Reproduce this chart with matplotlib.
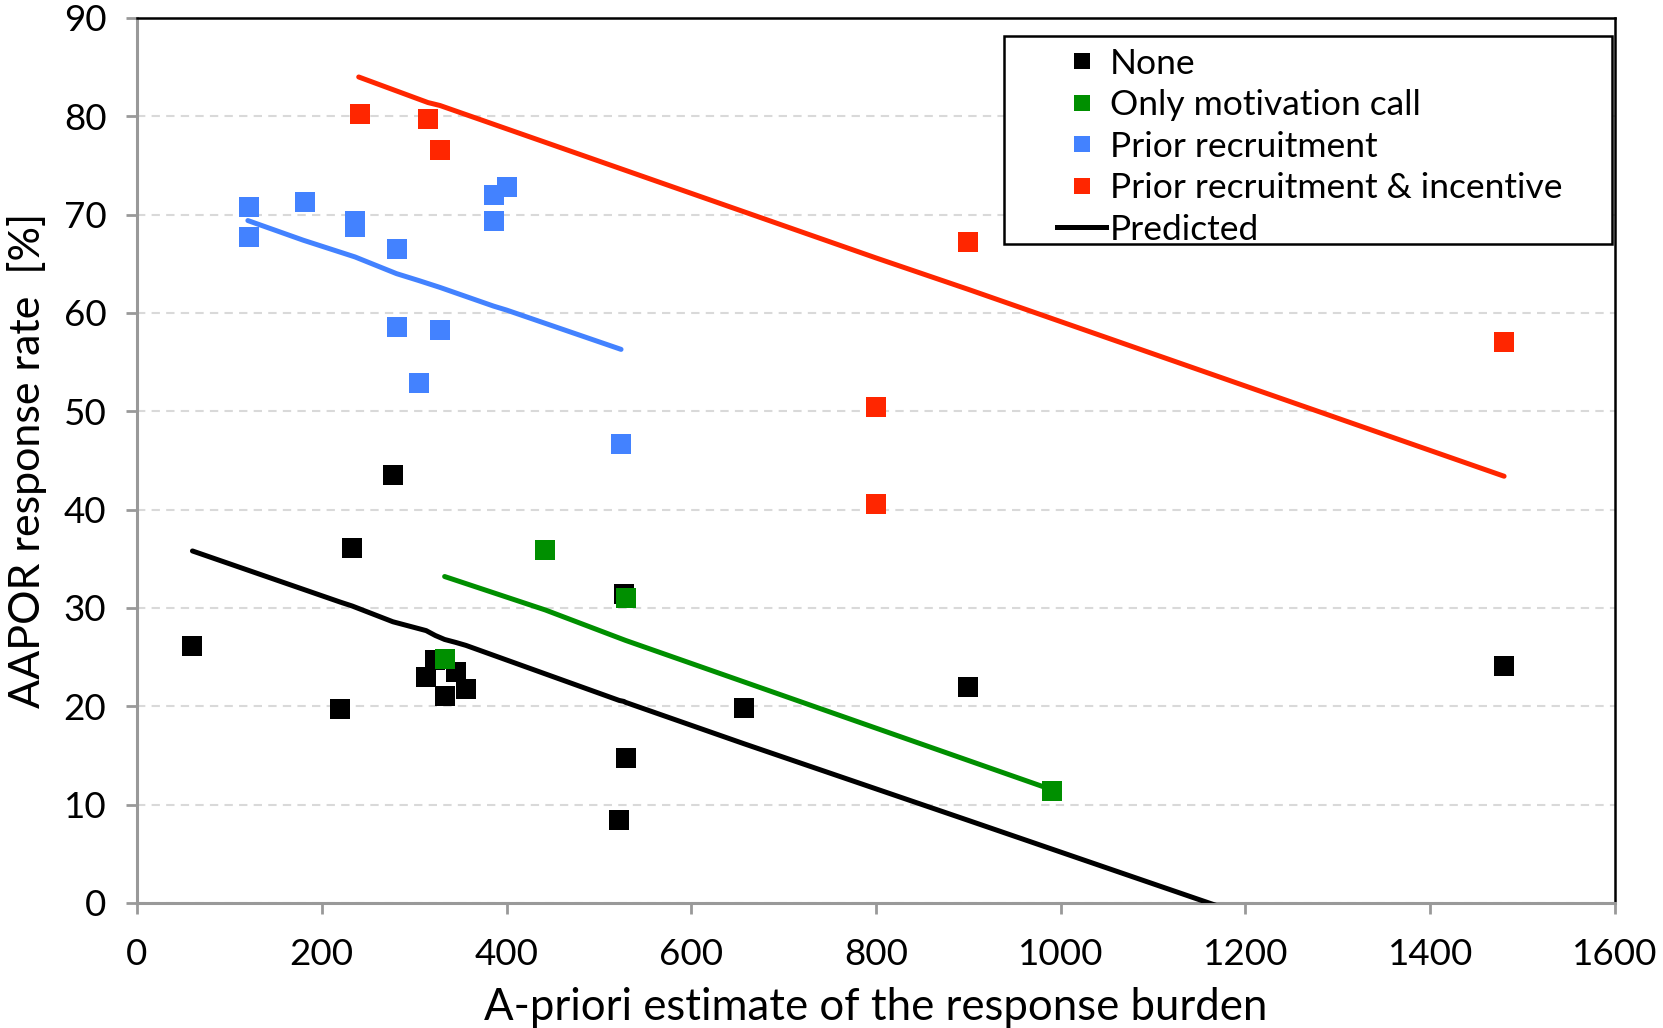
"""Response rate vs a-priori response burden, by recruitment strategy."""
import matplotlib
matplotlib.use("Agg")
import matplotlib.pyplot as plt
from matplotlib.lines import Line2D
from matplotlib.patches import Rectangle

plt.rcParams['font.family'] = ['Lato', 'DejaVu Sans']

# Observed response rates
none_x = [60, 220, 233, 277, 313, 323, 333, 345, 356, 522, 527, 529, 657, 900, 1480]
none_y = [26.1, 19.7, 36.1, 43.5, 23.0, 24.7, 21.1, 23.5, 21.8, 8.4, 31.4, 14.7, 19.8, 22.0, 24.1]

motiv_x = [333, 442, 529, 991]
motiv_y = [24.8, 35.9, 31.0, 11.4]

prior_x = [121, 121, 182, 236, 236, 281, 281, 305, 328, 386, 386, 401, 524]
prior_y = [70.8, 67.7, 71.3, 69.4, 68.7, 66.5, 58.6, 52.9, 58.3, 72.0, 69.4, 72.8, 46.7]

incent_x = [241, 315, 328, 800, 800, 900, 1480]
incent_y = [80.2, 79.7, 76.6, 50.4, 40.6, 67.2, 57.1]

# Predicted response rates
pred_none_x = [60, 220, 233, 277, 313, 323, 333, 345, 356, 522, 527, 529, 657, 900, 1480]
pred_none_y = [35.8, 30.6, 30.2, 28.6, 27.7, 27.2, 26.8, 26.5, 26.2, 20.6, 20.5, 20.4, 16.2, 8.4, -10.3]

pred_motiv_x = [333, 442, 529, 991]
pred_motiv_y = [33.2, 29.8, 26.7, 11.5]

pred_prior_x = [120, 180, 236, 281, 305, 328, 386, 400, 524]
pred_prior_y = [69.4, 67.4, 65.7, 64.0, 63.3, 62.6, 60.7, 60.3, 56.3]

pred_incent_x = [240, 315, 328, 800, 900, 1480]
pred_incent_y = [84.0, 81.4, 81.1, 65.6, 62.4, 43.4]

colors = {'none': '#000000', 'motiv': '#008f00', 'prior': '#4382ff', 'incent': '#ff2600'}

fig = plt.figure(figsize=(16.63, 10.28), dpi=100)
ax = fig.add_axes([0.0824, 0.1216, 0.8887, 0.8609])

# Predicted lines
ax.plot(pred_none_x, pred_none_y, color=colors['none'], lw=3.6, solid_capstyle='round', zorder=3)
ax.plot(pred_motiv_x, pred_motiv_y, color=colors['motiv'], lw=3.6, solid_capstyle='round', zorder=3)
ax.plot(pred_prior_x, pred_prior_y, color=colors['prior'], lw=3.6, solid_capstyle='round', zorder=3)
ax.plot(pred_incent_x, pred_incent_y, color=colors['incent'], lw=3.6, solid_capstyle='round', zorder=3)

# Observed points
ms = 14.5
ax.plot(none_x, none_y, 's', color=colors['none'], ms=ms, mew=0, zorder=4)
ax.plot(motiv_x, motiv_y, 's', color=colors['motiv'], ms=ms, mew=0, zorder=5)
ax.plot(prior_x, prior_y, 's', color=colors['prior'], ms=ms, mew=0, zorder=4)
ax.plot(incent_x, incent_y, 's', color=colors['incent'], ms=ms, mew=0, zorder=4)

ax.set_xlim(0, 1600)
ax.set_ylim(0, 90)
ax.set_xticks(range(0, 1601, 200))
ax.set_yticks(range(0, 91, 10))
ax.yaxis.grid(True, color='#d9d9d9', ls=(0, (4, 3)), lw=1.5)
ax.set_axisbelow(True)

for side in ['left', 'bottom']:
    ax.spines[side].set_color('#999999')
    ax.spines[side].set_linewidth(2.2)
for side in ['top', 'right']:
    ax.spines[side].set_color('black')
    ax.spines[side].set_linewidth(1.8)

ax.tick_params(axis='both', color='#999999', width=2, length=8, labelsize=26.5)
ax.tick_params(axis='y', pad=14)
ax.tick_params(axis='x', pad=17)

ax.set_xlabel('A-priori estimate of the response burden', fontsize=31.5, labelpad=12)
ax.set_ylabel('AAPOR response rate  [%]', fontsize=31, labelpad=12)

# legend frame drawn separately (wide left margin as in the original)
ax.add_patch(Rectangle((0.5865, 0.7446), 0.4114, 0.2354, transform=ax.transAxes,
                       facecolor='white', edgecolor='black', lw=1.8, zorder=6))

handles = [
    Line2D([], [], ls='none', marker='s', color=colors['none'], ms=12, mew=0),
    Line2D([], [], ls='none', marker='s', color=colors['motiv'], ms=12, mew=0),
    Line2D([], [], ls='none', marker='s', color=colors['prior'], ms=12, mew=0),
    Line2D([], [], ls='none', marker='s', color=colors['incent'], ms=12, mew=0),
    Line2D([], [], color='black', lw=3.6),
]
labels = ['None', 'Only motivation call', 'Prior recruitment',
          'Prior recruitment & incentive', 'Predicted']
leg = ax.legend(handles, labels, loc='upper left', bbox_to_anchor=(0.6224, 0.9665),
                fontsize=25.5, frameon=False, borderpad=0, labelspacing=0.27,
                handlelength=1.4, handletextpad=0.1, borderaxespad=0)
leg.set_zorder(7)

fig.savefig('out.png', dpi=100)
